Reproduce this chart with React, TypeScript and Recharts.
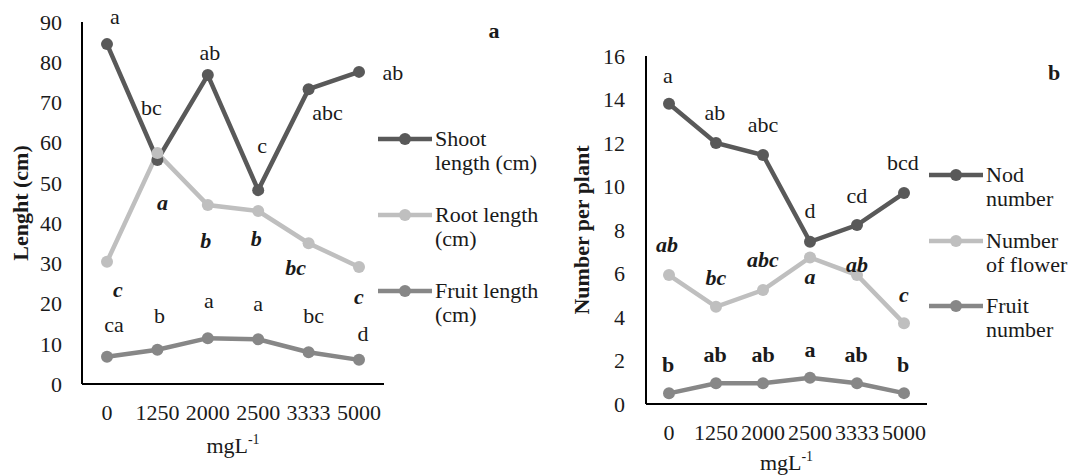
import React from 'react';
import { LineChart, Line, XAxis, YAxis, LabelList, Legend, Label } from 'recharts';

const FONT = '"Liberation Serif", "Times New Roman", serif';
const TEXT = '#1a1a1a';
const DARK = '#595959';
const LIGHT = '#bfbfbf';
const MID = '#878787';

// ---------- Data ----------
const doses = ['0', '1250', '2000', '2500', '3333', '5000'];

const shootLength = [84.5, 55.7, 76.8, 48.2, 73.3, 77.6];
const rootLength = [30.4, 57.4, 44.5, 43.0, 35.0, 29.1];
const fruitLength = [6.8, 8.5, 11.4, 11.1, 7.9, 6.0];
const shootLetters = ['a', 'bc', 'ab', 'c', 'abc', 'ab'];
const rootLetters = ['c', 'a', 'b', 'b', 'bc', 'c'];
const fruitLetters = ['ca', 'b', 'a', 'a', 'bc', 'd'];

const nodNumber = [13.8, 12.0, 11.45, 7.46, 8.23, 9.7];
const flowerNumber = [5.93, 4.47, 5.24, 6.74, 5.93, 3.71];
const fruitNumber = [0.49, 0.95, 0.95, 1.21, 0.95, 0.5];
const nodLetters = ['a', 'ab', 'abc', 'd', 'cd', 'bcd'];
const flowerLetters = ['ab', 'bc', 'abc', 'a', 'ab', 'c'];
const fruitNumLetters = ['b', 'ab', 'ab', 'a', 'ab', 'b'];

const yTicksA = [0, 10, 20, 30, 40, 50, 60, 70, 80, 90];
const yTicksB = [0, 2, 4, 6, 8, 10, 12, 14, 16];

const namesA = ['Shoot\nlength (cm)', 'Root length\n(cm)', 'Fruit length\n(cm)'];
const namesB = ['Nod\nnumber', 'Number\nof flower', 'Fruit\nnumber'];

// ---------- Letter label placement (dx, baseline dy relative to the point) ----------
const shootOff = [[8, -20], [-6, -45], [2, -15], [4, -37], [19, 31], [34, 8]];
const rootOff = [[11, 35], [5, 57], [-2, 43], [-2, 35], [-13, 32], [0, 37]];
const fruitOff = [[7, -25], [2, -27], [1, -30], [0, -28], [5, -29], [4, -19]];
const nodOff = [[-1, -21], [-1, -23], [0, -23], [0, -24], [0, -22], [-1, -23]];
const flowerOff = [[-2, -23], [0, -22], [0, -23], [0, 27], [0, -3], [0, -21]];
const fruitNumOff = [[-1, -21], [-1, -21], [0, -21], [0, -21], [-1, -21], [-1, -21]];

const dataA = doses.map((d, i) => ({
  idx: i,
  dose: d,
  shoot: shootLength[i],
  root: rootLength[i],
  fruit: fruitLength[i],
  shootL: shootLetters[i],
  rootL: rootLetters[i],
  fruitL: fruitLetters[i],
}));

const dataB = doses.map((d, i) => ({
  idx: i,
  dose: d,
  nod: nodNumber[i],
  flower: flowerNumber[i],
  fruitN: fruitNumber[i],
  nodL: nodLetters[i],
  flowerL: flowerLetters[i],
  fruitNL: fruitNumLetters[i],
}));

const makeLabel = (offsets: number[][], fontWeight: string, fontStyle: string) => (props: any) => {
  const vb = props.viewBox || {};
  const x = props.x ?? vb.x;
  const y = props.y ?? vb.y;
  const i = props.index ?? props.payload?.idx ?? 0;
  const off = offsets[i] || [0, -20];
  return (
    <text
      x={x + off[0]}
      y={y + off[1]}
      textAnchor="middle"
      fontFamily={FONT}
      fontSize={22}
      fontWeight={fontWeight}
      fontStyle={fontStyle}
      fill={TEXT}
    >
      {props.value}
    </text>
  );
};

const makeLegend = (gap: number, order: string[]) => (props: any) => {
  const payload = [...(props.payload || [])].sort(
    (a: any, b: any) => order.indexOf(a.value) - order.indexOf(b.value)
  );
  return (
    <div style={{ fontFamily: FONT, fontSize: 22, lineHeight: '24px', color: TEXT }}>
      {payload.map((entry: any, i: number) => (
        <div key={i} style={{ display: 'flex', alignItems: 'flex-start', marginTop: i ? gap : 0 }}>
          <svg width={54} height={16} style={{ marginTop: 4, flex: 'none' }}>
            <line x1={0} y1={8} x2={54} y2={8} stroke={entry.color} strokeWidth={4.5} />
            <circle cx={27} cy={8} r={6} fill={entry.color} />
          </svg>
          <div style={{ whiteSpace: 'pre', marginLeft: 3 }}>{entry.value}</div>
        </div>
      ))}
    </div>
  );
};

const yTitle = (text: string, dx: number) => (props: any) => {
  const vb = props.viewBox || {};
  const cx = vb.x + dx;
  const cy = vb.y + vb.height / 2;
  return (
    <text
      transform={`translate(${cx}, ${cy}) rotate(-90)`}
      textAnchor="middle"
      fontFamily={FONT}
      fontSize={22}
      fontWeight="bold"
      fill={TEXT}
    >
      {text}
    </text>
  );
};

const xTitle = (dy: number) => (props: any) => {
  const vb = props.viewBox || {};
  const cx = vb.x + vb.width / 2;
  const cy = vb.y + dy;
  return (
    <text x={cx} y={cy} textAnchor="middle" fontFamily={FONT} fontSize={22} fill={TEXT}>
      <tspan>mgL</tspan>
      <tspan fontSize={14} dy={-9}>-1</tspan>
    </text>
  );
};

const tickStyle = { fontFamily: FONT, fontSize: 22, fill: TEXT };
const axisLine = { stroke: '#000', strokeWidth: 2 };
const dot = (color: string) => ({ r: 6, fill: color, stroke: color, strokeWidth: 0 });

export default function App() {
  return (
    <div style={{ position: 'absolute', left: 0, top: 0, width: 1070, height: 475, background: '#fff' }}>
      <div style={{ position: 'absolute', left: 0, top: 0 }}>
        <LineChart width={540} height={475} data={dataA} margin={{ top: 22, right: 156, bottom: 31, left: 22 }}>
          <XAxis
            dataKey="dose"
            height={60}
            padding={{ left: 25, right: 25 }}
            tickLine={false}
            tickSize={0}
            tickMargin={20}
            tick={tickStyle}
            axisLine={axisLine}
            interval={0}
          >
            <Label content={xTitle(69)} />
          </XAxis>
          <YAxis
            width={60}
            domain={[0, 90]}
            ticks={yTicksA}
            tickLine={false}
            tickSize={0}
            tickMargin={20}
            tick={tickStyle}
            axisLine={axisLine}
            interval={0}
          >
            <Label content={yTitle('Lenght (cm)', 6)} />
          </YAxis>
          <Legend
            layout="vertical"
            align="center"
            verticalAlign="middle"
            itemSorter={null as any}
            wrapperStyle={{ left: 378, top: 127, width: 160 }}
            content={makeLegend(28, namesA)}
          />
          <Line
            name={namesA[0]}
            dataKey="shoot"
            stroke={DARK}
            strokeWidth={4.5}
            dot={dot(DARK)}
            activeDot={false}
            isAnimationActive={false}
          >
            <LabelList dataKey="shootL" content={makeLabel(shootOff, 'normal', 'normal')} />
          </Line>
          <Line
            name={namesA[1]}
            dataKey="root"
            stroke={LIGHT}
            strokeWidth={4.5}
            dot={dot(LIGHT)}
            activeDot={false}
            isAnimationActive={false}
          >
            <LabelList dataKey="rootL" content={makeLabel(rootOff, 'bold', 'italic')} />
          </Line>
          <Line
            name={namesA[2]}
            dataKey="fruit"
            stroke={MID}
            strokeWidth={4.5}
            dot={dot(MID)}
            activeDot={false}
            isAnimationActive={false}
          >
            <LabelList dataKey="fruitL" content={makeLabel(fruitOff, 'normal', 'normal')} />
          </Line>
        </LineChart>
      </div>

      <div style={{ position: 'absolute', left: 540, top: 0 }}>
        <LineChart width={530} height={475} data={dataB} margin={{ top: 56, right: 143, bottom: 21, left: 46 }}>
          <XAxis
            dataKey="dose"
            height={50}
            padding={{ left: 23, right: 23 }}
            tickLine={false}
            tickSize={0}
            tickMargin={20}
            tick={tickStyle}
            axisLine={axisLine}
            interval={0}
          >
            <Label content={xTitle(66)} />
          </XAxis>
          <YAxis
            width={60}
            domain={[0, 16]}
            ticks={yTicksB}
            tickLine={false}
            tickSize={0}
            tickMargin={21}
            tick={tickStyle}
            axisLine={axisLine}
            interval={0}
          >
            <Label content={yTitle('Number per plant', 3)} />
          </YAxis>
          <Legend
            layout="vertical"
            align="center"
            verticalAlign="middle"
            itemSorter={null as any}
            wrapperStyle={{ left: 389, top: 163, width: 140 }}
            content={makeLegend(17.5, namesB)}
          />
          <Line
            name={namesB[0]}
            dataKey="nod"
            stroke={DARK}
            strokeWidth={4.5}
            dot={dot(DARK)}
            activeDot={false}
            isAnimationActive={false}
          >
            <LabelList dataKey="nodL" content={makeLabel(nodOff, 'normal', 'normal')} />
          </Line>
          <Line
            name={namesB[1]}
            dataKey="flower"
            stroke={LIGHT}
            strokeWidth={4.5}
            dot={dot(LIGHT)}
            activeDot={false}
            isAnimationActive={false}
          >
            <LabelList dataKey="flowerL" content={makeLabel(flowerOff, 'bold', 'italic')} />
          </Line>
          <Line
            name={namesB[2]}
            dataKey="fruitN"
            stroke={MID}
            strokeWidth={4.5}
            dot={dot(MID)}
            activeDot={false}
            isAnimationActive={false}
          >
            <LabelList dataKey="fruitNL" content={makeLabel(fruitNumOff, 'bold', 'normal')} />
          </Line>
        </LineChart>
      </div>

      <svg width={1070} height={475} style={{ position: 'absolute', left: 0, top: 0, pointerEvents: 'none' }}>
        <text x={494} y={38} textAnchor="middle" fontFamily={FONT} fontSize={22} fontWeight="bold" fill={TEXT}>
          a
        </text>
        <text x={1054} y={80} textAnchor="middle" fontFamily={FONT} fontSize={22} fontWeight="bold" fill={TEXT}>
          b
        </text>
      </svg>
    </div>
  );
}
